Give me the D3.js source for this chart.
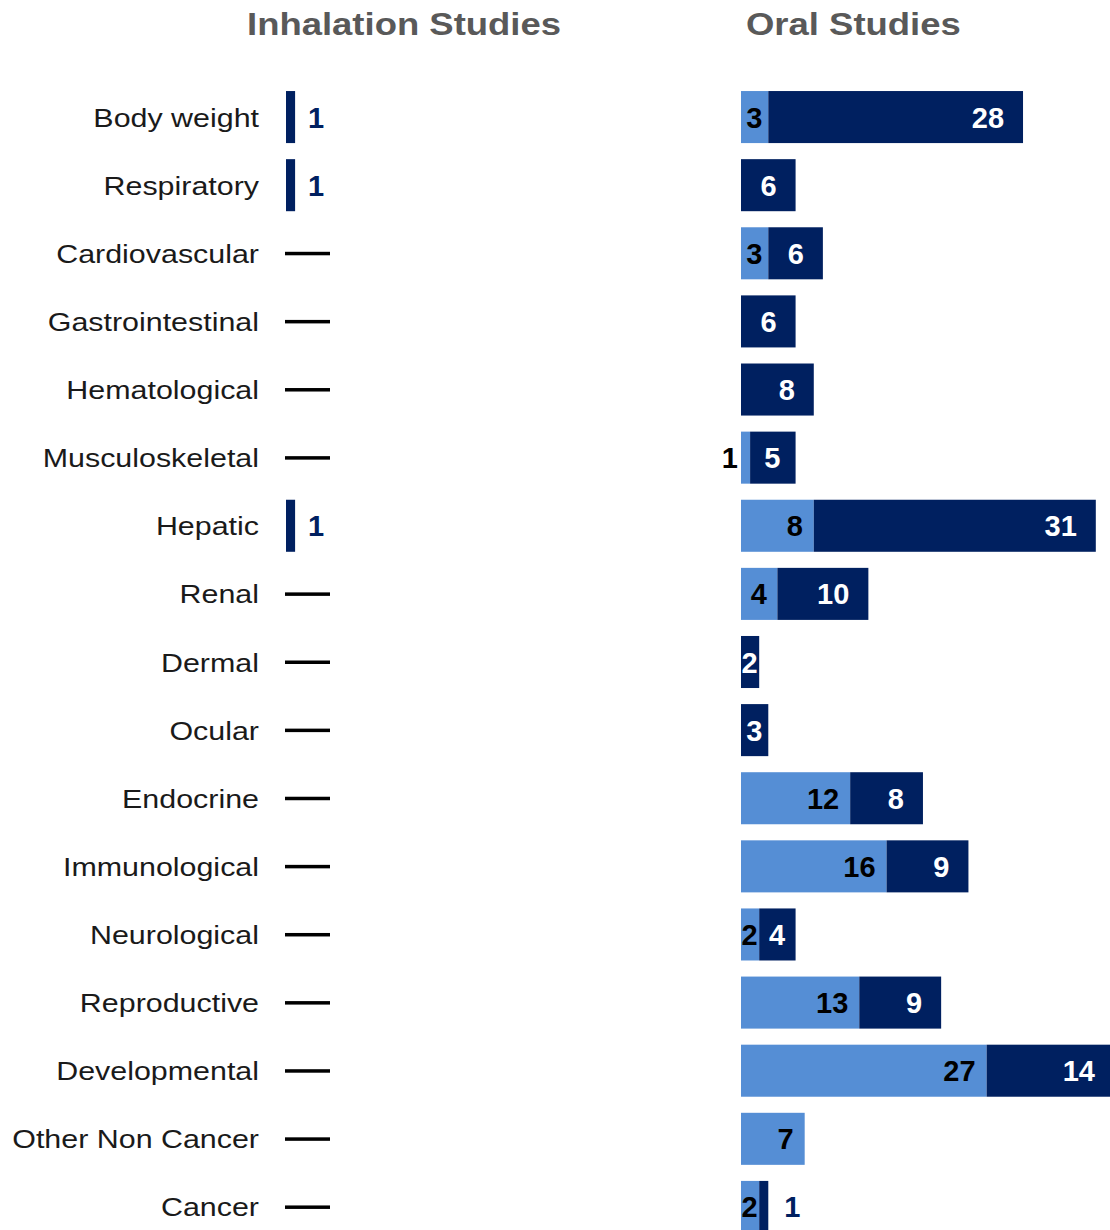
<!DOCTYPE html>
<html>
<head>
<meta charset="utf-8">
<script src="https://cdnjs.cloudflare.com/ajax/libs/d3/7.8.5/d3.min.js"></script>
<style>
  body { margin: 0; background: #fff; }
  svg text { font-family: "Liberation Sans", Arial, sans-serif; }
</style>
</head>
<body>
<div id="chart"></div>
<script>
// ---- data ----
var categories = ["Body weight", "Respiratory", "Cardiovascular", "Gastrointestinal",
  "Hematological", "Musculoskeletal", "Hepatic", "Renal", "Dermal", "Ocular",
  "Endocrine", "Immunological", "Neurological", "Reproductive", "Developmental",
  "Other Non Cancer", "Cancer"];
var inhalation = [1, 1, 0, 0, 0, 0, 1, 0, 0, 0, 0, 0, 0, 0, 0, 0, 0];
var oralLight  = [3, 0, 3, 0, 0, 1, 8, 4, 0, 0, 12, 16, 2, 13, 27, 7, 2];
var oralDark   = [28, 6, 6, 6, 8, 5, 31, 10, 2, 3, 8, 9, 4, 9, 14, 0, 1];
var titles = ["Inhalation Studies", "Oral Studies"];

var light = "#558ED5", dark = "#002060";
var width = 1110, height = 1230;

var svg = d3.select("#chart").append("svg")
    .attr("width", width)
    .attr("height", height);

var y = d3.scaleBand()
    .domain(categories)
    .range([83, 1241])
    .paddingInner(0.236)
    .paddingOuter(0.118);

var x = d3.scaleLinear().domain([0, 41]).range([0, 373]);
var inhX0 = 286, oralX0 = 741;

// stretched text helper (the original is a bit wide)
function addText(g, tx, ty, str, opts) {
  var t = g.append("g")
      .attr("transform", "translate(" + tx + "," + ty + ") scale(" + (opts.sx || 1) + ",1)")
    .append("text")
      .attr("text-anchor", opts.anchor || "start")
      .attr("font-size", opts.size)
      .attr("font-weight", opts.weight || "normal")
      .attr("fill", opts.fill || "#000")
      .text(str);
  return t;
}

// titles
addText(svg, 404, 35, titles[0], {anchor: "middle", size: 32, weight: "bold", fill: "#595959", sx: 1.14});
addText(svg, 746, 35, titles[1], {anchor: "start", size: 32, weight: "bold", fill: "#595959", sx: 1.14});

// category labels
var labels = svg.append("g");
categories.forEach(function(c) {
  var cy = y(c) + y.bandwidth() / 2;
  addText(labels, 259, cy + 9.5, c, {anchor: "end", size: 26, fill: "#1a1a1a", sx: 1.17});
});

// inhalation column
var inh = svg.append("g");
categories.forEach(function(c, i) {
  var cy = y(c) + y.bandwidth() / 2;
  if (inhalation[i] > 0) {
    inh.append("rect")
      .attr("x", inhX0)
      .attr("y", y(c))
      .attr("width", x(inhalation[i]))
      .attr("height", y.bandwidth())
      .attr("fill", dark);
    addText(inh, inhX0 + x(inhalation[i]) + 13, cy + 10.5, inhalation[i],
      {size: 29, weight: "bold", fill: dark});
  } else {
    inh.append("rect")
      .attr("x", 285)
      .attr("y", cy - 1.5)
      .attr("width", 45)
      .attr("height", 3.5)
      .attr("fill", "#000");
  }
});

// oral column, stacked
var oral = svg.append("g");
var fs = 29;
function segLabel(v, x0, x1, cy, isDark, first) {
  var w = x1 - x0;
  var tw = String(v).length * 0.556 * fs * 0.95;
  var pad = isDark ? 19 : 11;
  if (w >= tw) {
    var p = Math.min(pad, (w - tw) / 2);
    addText(oral, x1 - p, cy + 10.5, v, {anchor: "end", size: fs, weight: "bold", fill: isDark ? "#fff" : "#000"});
  } else if (first) {
    addText(oral, x0 - 3, cy + 10.5, v, {anchor: "end", size: fs, weight: "bold", fill: "#000"});
  } else {
    addText(oral, x1 + 16, cy + 10.5, v, {anchor: "start", size: fs, weight: "bold", fill: dark});
  }
}

categories.forEach(function(c, i) {
  var cy = y(c) + y.bandwidth() / 2;
  var a = oralLight[i], b = oralDark[i];
  if (a > 0) {
    oral.append("rect")
      .attr("x", oralX0)
      .attr("y", y(c))
      .attr("width", x(a))
      .attr("height", y.bandwidth())
      .attr("fill", light);
  }
  if (b > 0) {
    oral.append("rect")
      .attr("x", oralX0 + x(a))
      .attr("y", y(c))
      .attr("width", x(b))
      .attr("height", y.bandwidth())
      .attr("fill", dark);
  }
  if (a > 0) segLabel(a, oralX0, oralX0 + x(a), cy, false, true);
  if (b > 0) segLabel(b, oralX0 + x(a), oralX0 + x(a + b), cy, true, a === 0);
});
</script>
</body>
</html>
